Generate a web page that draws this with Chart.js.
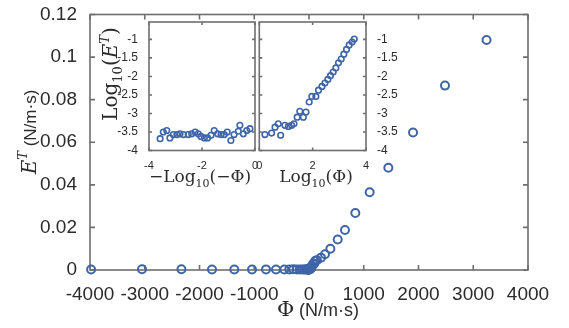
<!DOCTYPE html>
<html>
<head>
<meta charset="utf-8">
<script src="https://cdn.jsdelivr.net/npm/chart.js@4"></script>
<style>
  body { margin: 0; background: #fff; }
  #wrap { position: relative; width: 569px; height: 328px; overflow: hidden; }
  canvas { position: absolute; }
</style>
</head>
<body>
<div id="wrap">
  <canvas id="main" width="569" height="328" style="left:0;top:0;width:569px;height:328px"></canvas>
  <canvas id="insetL" width="180" height="185" style="left:90px;top:12px;width:180px;height:185px"></canvas>
  <canvas id="insetR" width="180" height="185" style="left:250px;top:12px;width:180px;height:185px"></canvas>
</div>
<script>
// ---- main plot data: Phi (N/m.s) vs E^T (N/m.s)
const phiNeg = [-3980, -3050, -2330, -1772, -1364, -1041, -785, -603, -451, -360, -287, -225, -170, -122,
  -86, -55, -40, -30, -22, -16, -12, -9, -6, -4, -3, -2.5, -2, -1.5];
const eNeg = [0.00021, 0.00032, 0.00035, 0.00022, 0.00027, 0.00027, 0.00028, 0.00027, 0.00027, 0.00028,
  0.00032, 0.00028, 0.00024, 0.00022, 0.00022, 0.00026, 0.00035, 0.00028, 0.00027, 0.00027, 0.00032,
  0.00019, 0.00027, 0.00033, 0.00048, 0.00028, 0.00035, 0.00039];
const phiPos = [2, 3, 4, 5, 6, 8, 10, 12, 14, 17, 20, 24, 30, 37, 45, 56, 75, 94, 116, 146, 219, 292, 390,
  524, 657, 846, 1108, 1449, 1900, 2484, 3243];
const ePos = [0.0003, 0.0003, 0.00045, 0.0005, 0.00027, 0.00048, 0.00045, 0.00048, 0.00052, 0.0008, 0.00055,
  0.0008, 0.0011, 0.0008, 0.0011, 0.002, 0.0029, 0.0029, 0.0043, 0.0046, 0.0058, 0.0074, 0.0100, 0.0143,
  0.0188, 0.0268, 0.0365, 0.0480, 0.0646, 0.0866, 0.108];

// ---- insets: log-log views
const negLogX = [-3.58, -3.46, -3.33, -3.21, -3.08, -2.95, -2.83, -2.70, -2.52, -2.39, -2.26, -2.14, -2.04,
  -1.91, -1.79, -1.66, -1.54, -1.41, -1.28, -1.16, -1.05, -0.91, -0.79, -0.63, -0.57, -0.44, -0.31, -0.19];
const negLogY = [-3.68, -3.50, -3.46, -3.66, -3.57, -3.57, -3.55, -3.57, -3.57, -3.55, -3.50, -3.55, -3.62,
  -3.66, -3.66, -3.59, -3.46, -3.55, -3.57, -3.57, -3.50, -3.73, -3.57, -3.48, -3.32, -3.55, -3.46, -3.41];
const posLogX = [0.21, 0.46, 0.59, 0.71, 0.80, 0.96, 1.09, 1.21, 1.30, 1.42, 1.52, 1.65, 1.75, 1.87, 1.97,
  2.12, 2.22, 2.35, 2.46, 2.57, 2.67, 2.77, 2.87, 2.97, 3.07, 3.17, 3.27, 3.37, 3.48, 3.56];
const posLogY = [-3.57, -3.53, -3.37, -3.28, -3.59, -3.32, -3.35, -3.32, -3.28, -3.10, -2.94, -3.10, -2.96,
  -2.69, -2.54, -2.54, -2.37, -2.27, -2.18, -2.08, -1.98, -1.88, -1.77, -1.63, -1.53, -1.40, -1.27, -1.15,
  -1.07, -0.99];

// ---- ticks
const mainXTicks = [-4000, -3000, -2000, -1000, 0, 1000, 2000, 3000, 4000];
const mainYTicks = [0, 0.02, 0.04, 0.06, 0.08, 0.1, 0.12];
const insetLXTicks = [-4, -2, 0];
const insetRXTicks = [0, 2, 4];
const insetYTicks = [-4, -3.5, -3, -2.5, -2, -1.5, -1];

const BLUE = "#3f65a8";
const AXIS = "#6e6e6e";
const LABEL = "#2b2b2b";
const SANS = "'Liberation Sans', Arial, sans-serif";
const SERIF = "'DejaVu Serif', serif";

const pts = (xs, ys) => xs.map((v, i) => ({ x: v, y: ys[i] }));
const useTicks = list => scale => { scale.ticks = list.map(v => ({ value: v })); };

/* box with inward ticks, MATLAB style */
const boxPlugin = {
  id: "matlabBox",
  beforeDatasetsDraw(chart, args, opts) {
    const { ctx, chartArea: a } = chart;
    const x = chart.scales.x, y = chart.scales.y;
    ctx.save();
    ctx.strokeStyle = AXIS;
    ctx.lineWidth = opts.width;
    ctx.beginPath();
    x.ticks.forEach(t => {
      const px = x.getPixelForValue(t.value);
      ctx.moveTo(px, a.bottom); ctx.lineTo(px, a.bottom - opts.len);
      ctx.moveTo(px, a.top); ctx.lineTo(px, a.top + opts.len);
    });
    y.ticks.forEach(t => {
      const py = y.getPixelForValue(t.value);
      ctx.moveTo(a.left, py); ctx.lineTo(a.left + opts.len, py);
      ctx.moveTo(a.right, py); ctx.lineTo(a.right - opts.len, py);
    });
    ctx.stroke();
    ctx.strokeRect(a.left, a.top, a.right - a.left, a.bottom - a.top);
    ctx.restore();
  }
};

/* axis titles with sub/superscripts */
const titlePlugin = {
  id: "richTitles",
  afterDraw(chart, args, opts) {
    const ctx = chart.ctx;
    (opts.items || []).forEach(item => {
      ctx.save();
      ctx.translate(item.x, item.y);
      if (item.rotate) ctx.rotate(-Math.PI / 2);
      ctx.fillStyle = LABEL;
      ctx.textBaseline = "alphabetic";
      ctx.textAlign = "left";
      let total = 0;
      item.parts.forEach(p => { ctx.font = p.font; p.w = ctx.measureText(p.text).width; total += p.w; });
      let cx = -total / 2;
      item.parts.forEach(p => {
        ctx.font = p.font;
        ctx.fillText(p.text, cx, p.dy || 0);
        cx += p.w;
      });
      ctx.restore();
    });
  }
};

function scatterSet(data, r, bw) {
  return {
    data: data,
    showLine: false,
    pointStyle: "circle",
    pointRadius: r,
    pointHoverRadius: r,
    borderColor: BLUE,
    borderWidth: bw,
    backgroundColor: "rgba(0,0,0,0)",
    clip: false
  };
}

function tickFont(size) {
  return { family: SANS, size: size, lineHeight: 1 };
}

/* ================= MAIN ================= */

new Chart(document.getElementById("main"), {
  type: "scatter",
  data: {
    datasets: [
      scatterSet(pts(phiNeg, eNeg), 4, 2),
      scatterSet(pts(phiPos, ePos), 4, 2)
    ]
  },
  options: {
    responsive: false,
    animation: false,
    events: [],
    layout: { padding: { left: 0, top: 10, right: 41, bottom: 0 } },
    plugins: {
      legend: { display: false },
      tooltip: { enabled: false },
      matlabBox: { width: 1.6, len: 5 },
      richTitles: {
        items: [
          {
            x: 318, y: 316, parts: [
              { text: "Φ", font: "21px " + SERIF },
              { text: " (N/m·s)", font: "18px " + SANS }
            ]
          },
          {
            x: 36, y: 132, rotate: true, parts: [
              { text: "E", font: "italic 20px " + SERIF },
              { text: "T", font: "italic 13px " + SERIF, dy: -9 },
              { text: " (N/m·s)", font: "17px " + SANS }
            ]
          }
        ]
      }
    },
    scales: {
      x: {
        type: "linear", min: -4000, max: 4000,
        afterBuildTicks: useTicks(mainXTicks),
        afterFit: s => { s.height = 58; },
        grid: { display: false }, border: { display: false },
        ticks: { font: tickFont(19), color: LABEL, padding: 7, maxRotation: 0, autoSkip: false, callback: v => String(v) }
      },
      y: {
        type: "linear", min: 0, max: 0.12,
        afterBuildTicks: useTicks(mainYTicks),
        afterFit: s => { s.width = 90; },
        grid: { display: false }, border: { display: false },
        ticks: { font: tickFont(19), color: LABEL, padding: 5, autoSkip: false, callback: v => String(v) }
      }
    }
  },
  plugins: [boxPlugin, titlePlugin]
});

/* ================= INSETS ================= */

function insetChart(id, xs, ys, xMin, xMax, xTicks, yPos, padding, yWidth, titles) {
  return new Chart(document.getElementById(id), {
    type: "scatter",
    data: { datasets: [scatterSet(pts(xs, ys), 2.8, 1.6)] },
    options: {
      responsive: false,
      animation: false,
      events: [],
      layout: { padding: padding },
      plugins: {
        legend: { display: false },
        tooltip: { enabled: false },
        matlabBox: { width: 1.6, len: 3 },
        richTitles: { items: titles }
      },
      scales: {
        x: {
          type: "linear", min: xMin, max: xMax,
          afterBuildTicks: useTicks(xTicks),
          afterFit: s => { s.height = 46.5; },
          grid: { display: false }, border: { display: false },
          ticks: { font: tickFont(11), color: LABEL, padding: 2, maxRotation: 0, autoSkip: false, callback: v => String(v) }
        },
        y: {
          type: "linear", min: -4, max: -0.53, position: yPos,
          afterBuildTicks: useTicks(insetYTicks),
          afterFit: s => { s.width = yWidth; },
          grid: { display: false }, border: { display: false },
          ticks: { font: tickFont(12), color: LABEL, padding: 3, autoSkip: false, callback: v => String(v) }
        }
      }
    },
    plugins: [boxPlugin, titlePlugin]
  });
}

insetChart("insetL", negLogX, negLogY, -4, 0, insetLXTicks, "left",
  { left: 0, top: 10, right: 15, bottom: 0 }, 59,
  [
    {
      x: 110, y: 170, parts: [
        { text: "−Log", font: "17px " + SERIF },
        { text: "10", font: "11px " + SERIF, dy: 5 },
        { text: "(−Φ)", font: "17px " + SERIF }
      ]
    },
    {
      x: 27, y: 62, rotate: true, parts: [
        { text: "Log", font: "20px " + SERIF },
        { text: "10", font: "13px " + SERIF, dy: 5 },
        { text: "(", font: "20px " + SERIF },
        { text: "E", font: "italic 20px " + SERIF },
        { text: "T", font: "italic 13px " + SERIF, dy: -8 },
        { text: ")", font: "20px " + SERIF }
      ]
    }
  ]);

insetChart("insetR", posLogX, posLogY, 0, 4, insetRXTicks, "right",
  { left: 9.3, top: 10, right: 0, bottom: 0 }, 64,
  [
    {
      x: 66, y: 170, parts: [
        { text: "Log", font: "17px " + SERIF },
        { text: "10", font: "11px " + SERIF, dy: 5 },
        { text: "(Φ)", font: "17px " + SERIF }
      ]
    }
  ]);
</script>
</body>
</html>
